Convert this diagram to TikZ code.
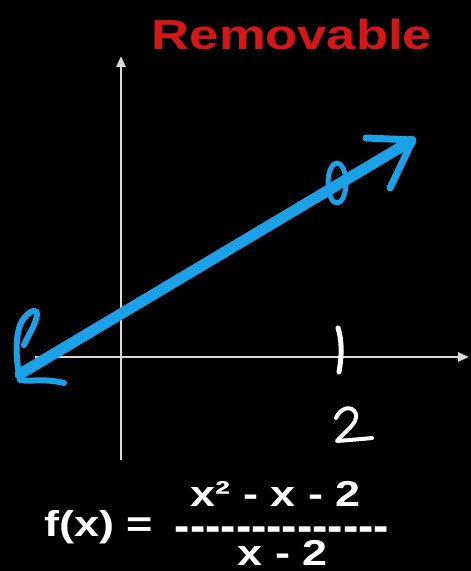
\documentclass[tikz,border=0pt]{standalone}
\usepackage{fontspec}
\setmainfont{Liberation Sans}
\usetikzlibrary{arrows.meta}
\definecolor{penblue}{RGB}{28,160,232}
\definecolor{titlered}{RGB}{215,22,22}
\tikzset{
  axis/.style={draw=white!85!black, line width=2.4pt, -{Triangle[length=11pt,width=9pt]}},
  pen/.style={draw=penblue, line width=5pt, line cap=round, line join=round},
  thickpen/.style={draw=penblue, line width=11pt, line cap=round},
  chalk/.style={draw=white, line width=4pt, line cap=round, line join=round},
  label/.style={text=white, font=\bfseries\fontsize{36}{40}\selectfont, inner sep=0pt, xscale=1.25},
}
\newcommand{\hy}{-\kern0pt}
\begin{document}
\begin{tikzpicture}[x=1pt,y=-1pt]
\fill[black] (0,0) rectangle (471,571);
\useasboundingbox (0,0) rectangle (471,571);
% title
\node[text=titlered, font=\bfseries\fontsize{42}{46}\selectfont, inner sep=0pt, xscale=1.25] (title) at (292,34) {Removable};
% axes
\coordinate (xs) at (35,357);
\coordinate (xe) at (469,357);
\coordinate (ys) at (121,460);
\coordinate (ye) at (121,56);
\draw[axis] (xs) -- (xe);
\draw[axis] (ys) -- (ye);
% main line
\coordinate (lstart) at (20,374);
\coordinate (lend) at (411,141);
\draw[thickpen] (lstart) -- (lend);
% hole
\draw[pen, line width=5pt] (337,183) ellipse [x radius=9, y radius=20];
% right arrowhead
\draw[pen, line width=7pt] (366,138) -- (413,140) -- (390,188);
% left arrowhead
\draw[pen, line width=6pt] (64,383) .. controls (44,378) and (30,382) .. (20,380)
   .. controls (16,360) and (15,340) .. (20,325)
   .. controls (24,315) and (36,306) .. (37,314)
   .. controls (36,325) and (28,335) .. (24,345);
% tick 1 and label 2
\draw[chalk, line width=5pt] (338,328) .. controls (342,340) and (342,355) .. (339,372);
\draw[chalk] (336,418) .. controls (340,408) and (352,404) .. (356,414)
  .. controls (358,424) and (344,432) .. (337,441)
  .. controls (350,440) and (362,439) .. (372,438);
% formula
\node[label, anchor=west] (fx) at (44,527) {f(x) =};
\node[label, text depth=0pt, anchor=base] (num) at (276,506) {x² - x - 2};
\node[label, text height=19pt, anchor=base] (den) at (283,565) {x - 2};
\node[text=white, font=\bfseries\fontsize{46}{50}\selectfont, inner sep=0pt, text height=17pt, text depth=0pt, anchor=base] (bar) at (282,541) {\hy\hy\hy\hy\hy\hy\hy\hy\hy\hy\hy\hy\hy\hy};
\end{tikzpicture}
\end{document}
